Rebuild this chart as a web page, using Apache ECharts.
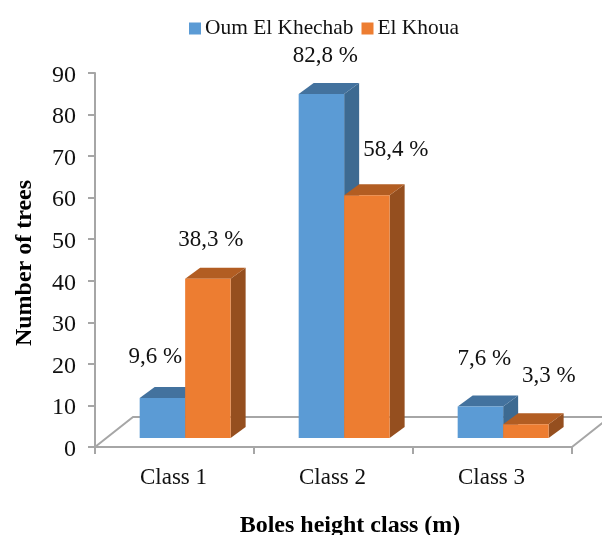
<!DOCTYPE html>
<html><head><meta charset="utf-8">
<style>html,body{margin:0;padding:0;background:#fff}#c{width:602px;height:535px}</style>
<script src="https://cdn.jsdelivr.net/npm/echarts@6/dist/echarts.min.js"></script>
</head><body><div id="c"></div>
<script>
const categories = ['Class 1', 'Class 2', 'Class 3'];
const oumElKhechab = [9.6, 82.8, 7.6];
const elKhoua = [38.3, 58.4, 3.3];
const oumLabels = ['9,6 %', '82,8 %', '7,6 %'];
const khouaLabels = ['38,3 %', '58,4 %', '3,3 %'];

const FONT = '"Liberation Serif","Times New Roman",serif';
const GRAY = '#a6a6a6';
const DX = 15, DY = 11, LIFT = 9;
const FLOOR_DX = 38, FLOOR_DY = 30;
const oumOffsets = [[-7, -41], [4, -38], [4, -47]];
const khouaOffsets = [[3, -39], [29, -45], [23, -48]];

function barSeries(name, values, labels, offsets, colors, side) {
  return {
    name, type: 'custom', clip: false, z: 3,
    itemStyle: { color: colors.front },
    encode: { x: 0, y: 1 },
    data: values.map((v, i) => [i, v]),
    renderItem(params, api) {
      const idx = api.value(0), val = api.value(1);
      const band = api.size([1, 0])[0];
      const w = band * 0.286;
      const c = api.coord([idx, val]);
      const b = api.coord([idx, 0]);
      const centre = c[0] + band * 0.067;
      const x0 = side < 0 ? centre - w : centre;
      const x1 = x0 + w;
      const yt = c[1] - LIFT, yb = b[1] - LIFT;
      const off = offsets[params.dataIndex];
      return { type: 'group', children: [
        { type: 'polygon', shape: { points: [[x1, yt], [x1 + DX, yt - DY], [x1 + DX, yb - DY], [x1, yb]] }, style: { fill: colors.side } },
        { type: 'polygon', shape: { points: [[x0, yt], [x0 + DX, yt - DY], [x1 + DX, yt - DY], [x1, yt]] }, style: { fill: colors.top } },
        { type: 'rect', shape: { x: x0, y: yt, width: w, height: yb - yt }, style: { fill: colors.front } },
        { type: 'text', z2: 50, style: { text: labels[params.dataIndex], x: (x0 + x1) / 2 + off[0], y: yt + off[1], align: 'center', verticalAlign: 'middle', fill: '#111', font: '23px ' + FONT } }
      ] };
    }
  };
}

const floor = {
  type: 'custom', silent: true, clip: false, z: 1, legendHoverLink: false,
  data: [[0, 0]], encode: { x: 0, y: 1 },
  renderItem(params) {
    const g = params.coordSys;
    const l = g.x, r = g.x + g.width, y = g.y + g.height;
    return { type: 'polyline', shape: { points: [[l, y], [l + FLOOR_DX, y - FLOOR_DY], [r + FLOOR_DX, y - FLOOR_DY], [r, y]] },
      style: { stroke: GRAY, lineWidth: 2, fill: null } };
  }
};

const chart = echarts.init(document.getElementById('c'), null, { renderer: 'canvas' });
chart.setOption({
  animation: false,
  backgroundColor: '#fff',
  grid: { left: 95, right: 30, top: 73, bottom: 88, containLabel: false, outerBoundsMode: 'none' },
  legend: {
    top: 18, left: 189, itemWidth: 12, itemHeight: 12, itemGap: 8, padding: 0,
    icon: 'rect', data: ['Oum El Khechab', 'El Khoua'],
    textStyle: { fontFamily: FONT, fontSize: 21.4, color: '#111', padding: [0, 0, 0, -1] }
  },
  xAxis: {
    type: 'category', data: categories,
    name: 'Boles height class (m)', nameLocation: 'middle', nameGap: 67,
    nameTextStyle: { fontFamily: FONT, fontSize: 24, fontWeight: 'bold', color: '#000', padding: [0, 0, 0, 33] },
    axisLine: { lineStyle: { color: GRAY, width: 2 } },
    axisTick: { show: true, length: 7, alignWithLabel: false, lineStyle: { color: GRAY, width: 2 } },
    axisLabel: { fontFamily: FONT, fontSize: 23, color: '#111', margin: 19, padding: [0, 2, 0, 0] },
    splitLine: { show: false }
  },
  yAxis: {
    type: 'value', min: 0, max: 90, interval: 10,
    name: 'Number of trees', nameLocation: 'middle', nameGap: 58, nameRotate: 90,
    nameTextStyle: { fontFamily: FONT, fontSize: 24, fontWeight: 'bold', color: '#000', padding: [0, 6, 0, 0] },
    axisLine: { show: true, lineStyle: { color: GRAY, width: 2 } },
    axisTick: { show: true, length: 7, lineStyle: { color: GRAY, width: 2 } },
    axisLabel: {
      margin: 19, formatter: '{t|{value}}',
      rich: { t: { fontFamily: FONT, fontSize: 24, color: '#111', padding: [5, 0, 0, 0] } }
    },
    splitLine: { show: false }
  },
  series: [
    floor,
    barSeries('Oum El Khechab', oumElKhechab, oumLabels, oumOffsets, { front: '#5b9bd5', top: '#43729e', side: '#3d6a91' }, -1),
    barSeries('El Khoua', elKhoua, khouaLabels, khouaOffsets, { front: '#ed7d31', top: '#b25d22', side: '#954f1f' }, 1)
  ]
});
</script></body></html>
